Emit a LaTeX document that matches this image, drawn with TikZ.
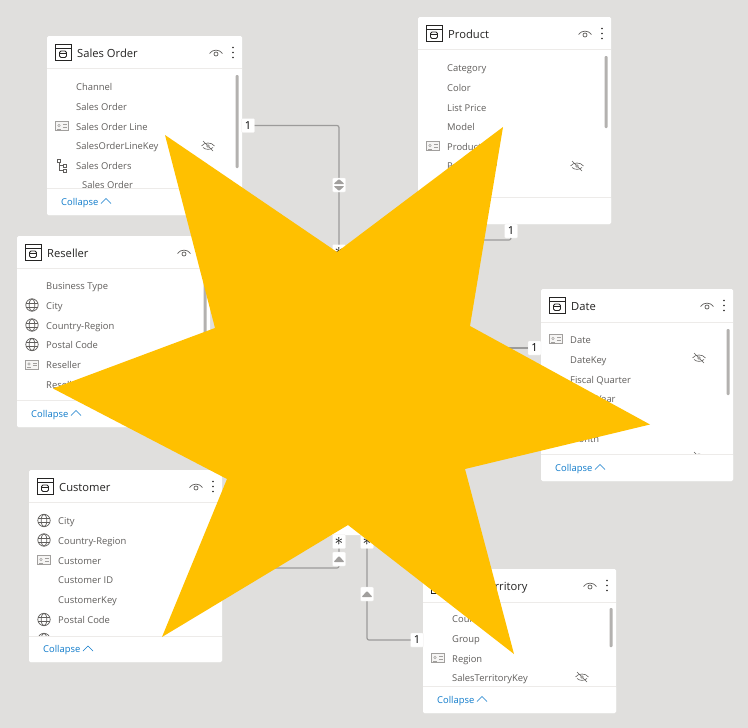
\documentclass[tikz,border=0pt]{standalone}
\usepackage{fontspec}
\usepackage{xcolor}
\setmainfont{Open Sans}
\usetikzlibrary{arrows.meta,positioning}
\definecolor{canvasgray}{HTML}{E0DFDD}
\definecolor{fieldgray}{HTML}{605E5C}
\definecolor{titledark}{HTML}{252423}
\definecolor{rulegray}{HTML}{EDEBE9}
\definecolor{thumbgray}{HTML}{B3B1AF}
\definecolor{linegray}{HTML}{9C9B9A}
\definecolor{iconsoft}{HTML}{A19F9D}
\definecolor{collapseblue}{HTML}{0F7BCB}
\definecolor{stargold}{HTML}{FFC000}
\tikzset{
  cardbox/.style = {
    rectangle,
    fill=white,
    rounded corners=1.5pt,
    inner sep=0pt,
    outer sep=0pt
  },
  titletext/.style = {
    anchor=base west,
    inner sep=0pt,
    yshift=-4.7pt,
    text=titledark,
    font=\fontsize{11.2}{13}\selectfont
  },
  fieldtext/.style = {
    anchor=base west,
    inner sep=0pt,
    yshift=-3.5pt,
    text=fieldgray,
    font=\fontsize{9.4}{11}\selectfont
  },
  collapsetext/.style = {
    anchor=base west,
    inner sep=0pt,
    yshift=-3.5pt,
    text=collapseblue,
    font=\fontsize{9.4}{11}\selectfont
  },
  relbox/.style = {
    rectangle,
    fill=white,
    draw=rulegray,
    line width=0.3pt,
    rounded corners=1pt,
    inner sep=0pt,
    outer sep=0pt,
    minimum width=13pt,
    minimum height=14pt,
    text=black,
    font=\fontsize{11}{12}\selectfont
  },
  manybox/.style = {
    relbox,
    font=\fontsize{17}{12}\selectfont
  },
  relline/.style = {
    draw=linegray,
    line width=1.2pt,
    rounded corners=2pt
  },
  iconline/.style = {
    draw=iconsoft,
    line width=0.7pt
  },
  pics/tableicon/.style = {
    code = {
      \draw[titledark, line width=0.9pt] (-8,-8) rectangle (8,8);
      \draw[titledark, line width=0.9pt] (-8,-4.5) -- (8,-4.5);
      \draw[titledark, line width=0.8pt, rounded corners=1.5pt] (-3.5,-1.5) rectangle (3.5,5);
      \draw[titledark, line width=0.6pt] (-3.5,0.5) -- (3.5,0.5);
    }
  },
  pics/eyeicon/.style = {
    code = {
      \draw[draw=fieldgray, line width=0.7pt] (-6.5,1) .. controls (-3.5,-3.5) and (3.5,-3.5) .. (6.5,1);
      \draw[draw=fieldgray, line width=0.7pt] (0,1.5) circle (2);
    }
  },
  pics/slashedeye/.style = {
    code = {
      \draw[draw=fieldgray, line width=0.6pt] (-6.5,0) .. controls (-3.5,-4) and (3.5,-4) .. (6.5,0);
      \draw[draw=fieldgray, line width=0.6pt] (-5,1.5) .. controls (-2,4) and (2,4) .. (5,1.5);
      \draw[draw=fieldgray, line width=0.6pt] (-5,-5) -- (5,5);
      \fill[iconsoft] (0,0) circle (1.8);
    }
  },
  pics/menudots/.style = {
    code = {
      \foreach \doty in {-5,0,5} {
        \fill[titledark] (0,\doty) circle (0.9);
      }
    }
  },
  pics/keyicon/.style = {
    code = {
      \draw[iconline, fill=rulegray!50] (-6.5,-4.5) rectangle (6.5,4.5);
      \draw[iconline, line width=0.5pt, fill=white] (-3,-0.5) circle (1.3);
      \draw[iconline, line width=0.5pt] (-5,3) -- (-1,3);
      \draw[iconline, line width=0.5pt] (1.2,-1.5) -- (5,-1.5);
      \draw[iconline, line width=0.5pt] (1.2,1) -- (5,1);
    }
  },
  pics/globeicon/.style = {
    code = {
      \draw[iconline, draw=fieldgray] (0,0) circle (6.2);
      \draw[iconline, draw=fieldgray] (0,0) ellipse (2.8 and 6.2);
      \draw[iconline, draw=fieldgray] (-6,-2) -- (6,-2);
      \draw[iconline, draw=fieldgray] (-6,2) -- (6,2);
    }
  },
  pics/hierarchyicon/.style = {
    code = {
      \draw[iconline, draw=fieldgray, line width=0.5pt] (-4.5,-6.5) rectangle (-1.5,-3.5);
      \draw[iconline, draw=fieldgray, line width=0.5pt] (1,-1.5) rectangle (4.5,1.5);
      \draw[iconline, draw=fieldgray, line width=0.5pt] (1,3.5) rectangle (4.5,6.5);
      \draw[iconline, draw=fieldgray, line width=0.5pt] (-3,-3.5) -- (-3,5) -- (1,5);
      \draw[iconline, draw=fieldgray, line width=0.5pt] (-3,0) -- (1,0);
    }
  },
  dirup/.style = {
    relbox,
    path picture = {
      \fill[iconsoft] ([shift={(-5.5,3)}]path picture bounding box.center) -- ++(11,0) -- ++(-5.5,-6) -- cycle;
    }
  },
  dirboth/.style = {
    relbox,
    path picture = {
      \fill[iconsoft] ([shift={(-5.5,-1)}]path picture bounding box.center) -- ++(11,0) -- ++(-5.5,-5) -- cycle;
      \fill[iconsoft] ([shift={(-5.5,1)}]path picture bounding box.center) -- ++(11,0) -- ++(-5.5,5) -- cycle;
    }
  }
}
% name, left, top, width, height, header line y, footer line y, title, rows
\newcommand{\tablecard}[9]{
  \def\cardleft{#2}
  \def\cardright{(#2+#4)}
  \node[cardbox, minimum width=#4pt, minimum height=#5pt] (#1) at ({#2+#4/2},{#3+#5/2}) {};
  \draw[rulegray, line width=0.8pt] (#2,#6) -- ++(#4,0);
  \pic at ({#2+16},{#3+16.5}) {tableicon};
  \node[titletext] (#1title) at ({#2+30},{#3+16.5}) {#8};
  \pic at ({#2+#4-26},{#3+16.5}) {eyeicon};
  \pic at ({#2+#4-9},{#3+16.5}) {menudots};
  #9
  \fill[white, rounded corners=1.5pt] (#2,#7) rectangle ({#2+#4},{#3+#5});
  \draw[rulegray, line width=0.6pt] (#2,#7) -- ++(#4,0);
  \node[collapsetext] (#1fold) at ({#2+14},{(#7+#3+#5)/2}) {Collapse};
  \draw[collapseblue, line width=0.6pt] ([shift={(2.5,1)}]#1fold.east) -- ++(5,-5) -- ++(5,5);
}
\newcommand{\rowtext}[3]{\node[fieldtext] (#1) at ({\cardleft+29},#2) {#3};}
\newcommand{\rowicon}[2]{\pic at ({\cardleft+15},#2) {#1};}
\newcommand{\rowhidden}[1]{\pic at ({\cardright-34},#1) {slashedeye};}
\newcommand{\rowthumb}[2]{\fill[thumbgray, rounded corners=1pt] ({\cardright-6.5},#1) rectangle ({\cardright-3.5},#2);}
\begin{document}
\begin{tikzpicture}[x=1pt, y=-1pt]
    \useasboundingbox (0,0) rectangle (748,728);
    \fill[canvasgray] (0,0) rectangle (748,728);

    % hidden middle card, only its lower edge shows
    \node[cardbox, minimum width=200pt, minimum height=277pt] (sales) at (350,396.5) {};

    \tablecard{orders}{47}{36}{195}{179}{68}{188}{Sales Order}{
      \rowthumb{75}{168}
      \rowtext{orderschannel}{87}{Channel}
      \rowtext{ordersorder}{106.5}{Sales Order}
      \rowicon{keyicon}{126}
      \rowtext{ordersline}{126.5}{Sales Order Line}
      \rowtext{orderskey}{146}{SalesOrderLineKey}
      \rowhidden{146}
      \rowicon{hierarchyicon}{165.5}
      \rowtext{ordersgroup}{165.5}{Sales Orders}
      \node[fieldtext] (orderssub) at (82,185) {Sales Order};
    }
    \tablecard{product}{418}{17}{193}{207}{49}{197}{Product}{
      \rowthumb{56}{128}
      \rowtext{productcat}{67.5}{Category}
      \rowtext{productcolor}{87.5}{Color}
      \rowtext{productprice}{107.5}{List Price}
      \rowtext{productmodel}{126.5}{Model}
      \rowicon{keyicon}{146}
      \rowtext{productname}{146.5}{Product}
      \rowtext{productkey}{166}{ProductKey}
      \rowhidden{166}
    }
    \tablecard{reseller}{17}{236}{193}{191}{268}{400}{Reseller}{
      \rowthumb{275}{340}
      \rowtext{resellertype}{285.5}{Business Type}
      \rowicon{globeicon}{305}
      \rowtext{resellercity}{305.5}{City}
      \rowicon{globeicon}{325}
      \rowtext{resellerregion}{325.5}{Country-Region}
      \rowicon{globeicon}{344.5}
      \rowtext{resellerpostal}{344.5}{Postal Code}
      \rowicon{keyicon}{364.5}
      \rowtext{resellername}{364.5}{Reseller}
      \rowtext{resellerkey}{384.5}{ResellerKey}
    }
    \tablecard{date}{541}{289}{192}{192}{322}{454}{Date}{
      \rowthumb{329}{395}
      \rowicon{keyicon}{339}
      \rowtext{dateday}{339.5}{Date}
      \rowtext{datekey}{359.5}{DateKey}
      \rowhidden{358}
      \rowtext{datequarter}{379.5}{Fiscal Quarter}
      \rowtext{dateyear}{398.5}{Fiscal Year}
      \rowtext{datemonth}{438.5}{Month}
      \rowhidden{457}
    }
    \tablecard{customer}{29}{470}{193}{192}{502}{636}{Customer}{
      \rowthumb{510}{575}
      \rowicon{globeicon}{520.5}
      \rowtext{customercity}{521}{City}
      \rowicon{globeicon}{540}
      \rowtext{customerregion}{540.5}{Country-Region}
      \rowicon{keyicon}{560}
      \rowtext{customername}{560.5}{Customer}
      \rowtext{customerid}{579.5}{Customer ID}
      \rowtext{customerkey}{599.5}{CustomerKey}
      \rowicon{globeicon}{619.5}
      \rowtext{customerpostal}{619.5}{Postal Code}
      \rowicon{globeicon}{639.5}
    }
    \tablecard{territory}{423}{569}{193}{144}{602}{686}{Sales Territory}{
      \rowthumb{608}{647}
      \rowtext{territorycountry}{618.5}{Country}
      \rowtext{territorygroup}{638.5}{Group}
      \rowicon{keyicon}{658}
      \rowtext{territoryregion}{658.5}{Region}
      \rowtext{territorykey}{677.5}{SalesTerritoryKey}
      \rowhidden{677}
    }

    \node[relbox] (ordersone) at (248,125.5) {1};
    \node[relbox] (productone) at (511,231) {1};
    \node[relbox] (dateone) at (534.5,348) {1};
    \node[relbox] (territoryone) at (417,640) {1};
    \node[manybox] (salesordersmany) at (339,251.5) {$\ast$};
    \node[manybox] (salescustomermany) at (339,541.5) {$\ast$};
    \node[manybox] (salesterritorymany) at (367,541.5) {$\ast$};
    \coordinate (customerport) at (222,568);
    \coordinate (productturn) at (400,240);

    \draw[relline] (ordersone.east) -| (salesordersmany.north);
    \draw[relline] (productone.south) |- (productturn) -- (productturn |- sales.north);
    \draw[relline] (dateone.west) -- (dateone -| sales.east);
    \draw[relline] (customerport) -| (salescustomermany.south);
    \draw[relline] (territoryone.west) -| (salesterritorymany.south);

    \node[dirboth] (ordersdir) at (339,185) {};
    \node[dirup] (customerdir) at (339,559) {};
    \node[dirup] (territorydir) at (367,594) {};

    \fill[stargold] (165,135) -- (337,252) -- (503,127) -- (470,326) -- (650,424.5)
      -- (465,469) -- (514,654) -- (348,525) -- (162,637) -- (227,479) -- (53,388.5)
      -- (215,328) -- cycle;
  \end{tikzpicture}
\end{document}
